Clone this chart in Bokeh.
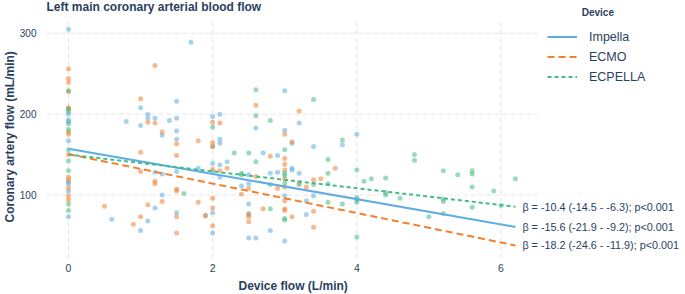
from bokeh.plotting import figure
from bokeh.models import (Range1d, FixedTicker, Legend, LegendItem, Label, Title)
from bokeh.embed import file_html
from bokeh.resources import INLINE

# ---------------- data ----------------
impella_x = [0, 1.7, 0, 0, 0, 0, 1.0, 0.8, 1.0, 1.1, 1.1, 1.2, 1.3, 1.4, 1.5, 1.5, 1.5, 1.5, 2.0,
             0, 0, 0, 0, 1.2, 1.3, 1.3, 0.6, 1.2, 1.1, 1.0, 1.5, 1.5, 1.8, 1.9, 2.0, 2.0, 2.0, 2.0, 2.0,
             3.0, 2.1, 2.6, 3.0, 3.2, 3.1, 2.1, 2.1, 4.0, 3.8,
             2.7, 2.9, 3.0, 3.0, 2.2, 2.1, 2.1, 2.4, 2.5, 2.5, 2.5, 2.5, 2.5, 2.6, 2.8, 2.9, 2.8,
             3.1, 3.1, 3.2, 3.3, 3.3, 3.4, 3.4]
impella_y = [305, 289, 200, 193, 191, 167, 208, 191, 186, 200, 195, 195, 174, 192, 216, 195, 179, 169, 197,
             116, 114, 105, 73, 128, 126, 100, 70, 84, 68, 56, 129, 78, 133, 75, 129, 78, 53, 139, 160,
             229, 200, 183, 180, 189, 164, 169, 164, 175, 162,
             152, 149, 99, 43, 141, 137, 122, 111, 125, 114, 89, 77, 47, 47, 127, 128, 56,
             133, 131, 127, 93, 76, 160, 99]

ecmo_x = [1.2, 0, 0, 0, 0, 0, 0, 0, 0, 1.0, 1.1, 1.2, 1.3, 1.8, 1.5, 2.0, 2.0,
          0, 0, 0, 0, 0, 0, 1.0, 1.0, 1.2, 1.2, 1.3, 0.5, 1.1, 1.0, 0.9, 1.5, 1.5, 1.5, 1.8,
          1.5, 1.5, 1.9, 2.0, 2.0, 2.0, 2.0, 2.0,
          2.6, 3.2, 2.1, 3.0, 3.1,
          2.8, 3.0, 3.0, 3.0, 3.0, 3.0, 3.0, 3.0, 3.0, 2.2, 2.1, 2.4, 2.5, 2.5, 2.5, 2.5,
          2.6, 2.9, 2.7, 3.2, 3.1, 3.3, 3.4, 3.4, 3.4, 3.5, 3.7]
ecmo_y = [260, 256, 244, 239, 228, 208, 207, 178, 175, 219, 190, 189, 178, 167, 163, 190, 165,
          150, 122, 119, 109, 99, 94, 153, 129, 117, 114, 92, 86, 88, 73, 64, 107, 105, 149, 91,
          73, 53, 74, 132, 96, 84, 62, 160,
          211, 204, 189, 175, 166,
          148, 145, 138, 131, 120, 110, 93, 83, 81, 133, 130, 101, 108, 76, 73, 67,
          123, 108, 83, 115, 73, 110, 119, 80, 60, 120, 133]

ecpella_x = [0, 0, 0, 0, 0, 2.0,
             0, 0, 0, 0, 0, 1.6,
             2.6, 3.4, 2.6, 2.8, 3.8,
             2.3, 2.5, 3.0, 3.0, 3.0, 3.0, 3.0, 3.0, 2.6, 2.4, 2.4, 2.8, 2.8, 3.2, 3.4,
             3.6, 3.6, 3.6, 3.6, 3.8, 4.0, 4.0, 4.0, 4.0, 4.0, 4.1, 4.2, 4.8, 4.8,
             4.4, 4.4, 4.4, 4.6, 5.0, 5.2, 5.4, 5.6, 5.6, 5.6, 5.6, 5.2, 5.2, 5.2,
             5.9, 6.0, 6.2]
ecpella_y = [229, 206, 203, 188, 181, 184,
             156, 142, 130, 89, 81, 102,
             230, 218, 198, 192, 168,
             152, 152, 156, 127, 124, 115, 71, 69, 141, 127, 125, 113, 83, 113, 113,
             144, 127, 114, 91, 89, 131, 97, 94, 91, 48, 117, 120, 150, 143,
             121, 103, 100, 96, 73, 130, 125, 130, 126, 110, 85, 95, 92, 77,
             105, 87, 120]

devices = ["Impella", "ECMO", "ECPELLA"]
fit_x = [0, 6.2]
fit_intercept = [157.3, 150.5, 150.0]
fit_beta = [-15.6, -18.2, -10.4]
beta_text = ["β = -15.6 (-21.9 - -9.2); p<0.001",
             "β = -18.2 (-24.6 - -11.9); p<0.001",
             "β = -10.4 (-14.5 - -6.3); p<0.001"]
x_ticks = [0, 2, 4, 6]
y_ticks = [100, 200, 300]

colors = ["#5DADE2", "#F2812E", "#45BC85"]
dashes = ["solid", "7 4", "4 3"]
FONT = "Liberation Sans"
TXT = "#2A3F5F"

# data panel extent (where grid lines are drawn)
panel_x = (-0.305, 6.51)
panel_y = (21.5, 317.2)

# ---------------- figure ----------------
p = figure(width=685, height=294, output_backend="svg", toolbar_location=None, title=None,
           x_range=Range1d(-0.305, 8.56), y_range=Range1d(21.5, 340.5),
           min_border_left=45, min_border_right=0, min_border_top=0, min_border_bottom=34)
p.outline_line_color = None
p.background_fill_color = "white"

for ax in (p.xaxis, p.yaxis):
    ax.axis_line_color = None
    ax.major_tick_line_color = None
    ax.minor_tick_line_color = None
    ax.major_tick_out = 0
    ax.major_tick_in = 0
    ax.minor_tick_out = 0
    ax.major_label_text_font = FONT
    ax.major_label_text_color = TXT
p.xaxis.major_label_text_font_size = "10.5px"
p.yaxis.major_label_text_font_size = "10px"
p.xaxis.ticker = FixedTicker(ticks=x_ticks)
p.yaxis.ticker = FixedTicker(ticks=y_ticks)
p.xaxis.major_label_standoff = 5
p.yaxis.major_label_standoff = 10

p.add_layout(Title(text="Device flow (L/min)", align="left", offset=192, standoff=4,
                   text_font=FONT, text_font_size="12px", text_font_style="bold",
                   text_color=TXT), "below")
p.add_layout(Title(text="Coronary artery flow (mL/min)", align="left", offset=36, standoff=0,
                   text_font=FONT, text_font_size="12px", text_font_style="bold",
                   text_color=TXT), "left")

p.xgrid.visible = False
p.ygrid.visible = False

# grid lines limited to the data panel
p.segment(x0=x_ticks, x1=x_ticks, y0=[panel_y[0]] * len(x_ticks), y1=[panel_y[1]] * len(x_ticks),
          line_color="#E6E6E6", line_dash="5 3", line_width=1)
p.segment(x0=[panel_x[0]] * len(y_ticks), x1=[panel_x[1]] * len(y_ticks), y0=y_ticks, y1=y_ticks,
          line_color="#E6E6E6", line_dash="5 3", line_width=1)

# scatter points
for xs, ys, c in ((impella_x, impella_y, colors[0]),
                  (ecmo_x, ecmo_y, colors[1]),
                  (ecpella_x, ecpella_y, colors[2])):
    p.scatter(xs, ys, size=5, fill_color=c, fill_alpha=0.55, line_color=None)

# regression lines
items = []
ends = []
for i, d in enumerate(devices):
    ys = [fit_intercept[i] + fit_beta[i] * x for x in fit_x]
    ends.append(ys[-1])
    r = p.line(fit_x, ys, line_color=colors[i], line_width=2, line_dash=dashes[i])
    items.append(LegendItem(label=d, renderers=[r]))

for i in range(3):
    p.add_layout(Label(x=fit_x[-1], y=ends[i], x_offset=7, text=beta_text[i],
                       text_font=FONT, text_font_size="10.8px", text_color=TXT,
                       text_baseline="middle", text_align="left"))

legend = Legend(items=items, location=(501, 172), orientation="vertical",
                label_text_font=FONT, label_text_font_size="12.5px", label_text_color=TXT,
                glyph_width=30, glyph_height=19, label_height=19, spacing=1,
                label_standoff=12, padding=10, margin=0,
                background_fill_alpha=0, border_line_color=None)
p.add_layout(legend, "center")

# chart title and legend title
p.add_layout(Label(x=panel_x[0], y=333, text="Left main coronary arterial blood flow",
                   text_font=FONT, text_font_size="12px", text_font_style="bold",
                   text_color=TXT, text_baseline="middle", text_align="left"))
p.add_layout(Label(x=7.12, y=325.5, text="Device", text_font=FONT, text_font_size="10px",
                   text_font_style="bold", text_color=TXT, text_baseline="middle",
                   text_align="left"))

open("out.html", "w").write(file_html(p, INLINE))
